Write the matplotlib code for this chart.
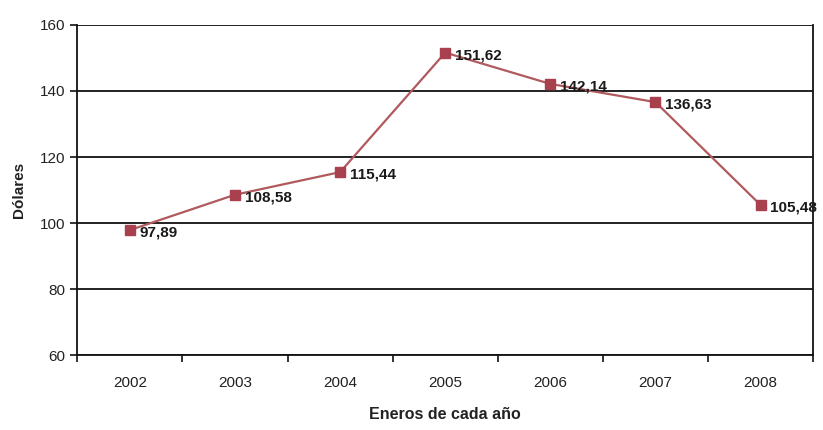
import matplotlib
matplotlib.use("Agg")
import matplotlib.pyplot as plt
import numpy as np

years = ["2002", "2003", "2004", "2005", "2006", "2007", "2008"]
values = [97.89, 108.58, 115.44, 151.62, 142.14, 136.63, 105.48]
labels = ["97,89", "108,58", "115,44", "151,62", "142,14", "136,63", "105,48"]
yticks = [60, 80, 100, 120, 140, 160]

plt.rcParams['font.family'] = ['Liberation Sans', 'DejaVu Sans']

fig = plt.figure(figsize=(8.23, 4.30), dpi=100)
ax = fig.add_axes([0.094, 0.174, 0.894, 0.768])

x = np.arange(len(years))
ax.plot(x, values, color="#b05a5e", lw=1.6, marker="s", markersize=7,
        markerfacecolor="#a8404e", markeredgecolor="#a8404e", zorder=3)
for xi, v, lab in zip(x, values, labels):
    ax.annotate(lab, (xi, v), xytext=(7, -2), textcoords="offset points",
                ha="left", va="center", fontsize=11, color="#1a1a1a", fontweight="bold")

ax.set_xlim(-0.5, len(years) - 0.5)
ax.set_ylim(60, 160)
ax.set_yticks(yticks)
ax.set_yticklabels([str(t) for t in yticks], fontsize=11, color="#222222")
ax.set_xticks(x)
ax.set_xticklabels(years, fontsize=11, color="#222222")
ax.tick_params(axis="x", which="major", length=0, pad=15)
ax.set_xticks(np.arange(-0.5, len(years), 1.0), minor=True)
ax.tick_params(axis="x", which="minor", length=5, width=1.2, direction="out", color="#111111")
ax.tick_params(axis="y", length=5, width=1.2, direction="out", color="#111111")

ax.grid(axis="y", color="#111111", lw=1.3)
ax.set_axisbelow(True)
for s in ["left", "bottom", "right"]:
    ax.spines[s].set_color("#111111")
    ax.spines[s].set_linewidth(1.3)
ax.spines["top"].set_visible(False)

ax.set_ylabel("Dólares", fontsize=11, fontweight="bold", color="#222222", labelpad=10)
ax.set_xlabel("Eneros de cada año", fontsize=11.5, fontweight="bold", color="#222222", labelpad=12)

fig.savefig("out.png", dpi=100, facecolor="white")
